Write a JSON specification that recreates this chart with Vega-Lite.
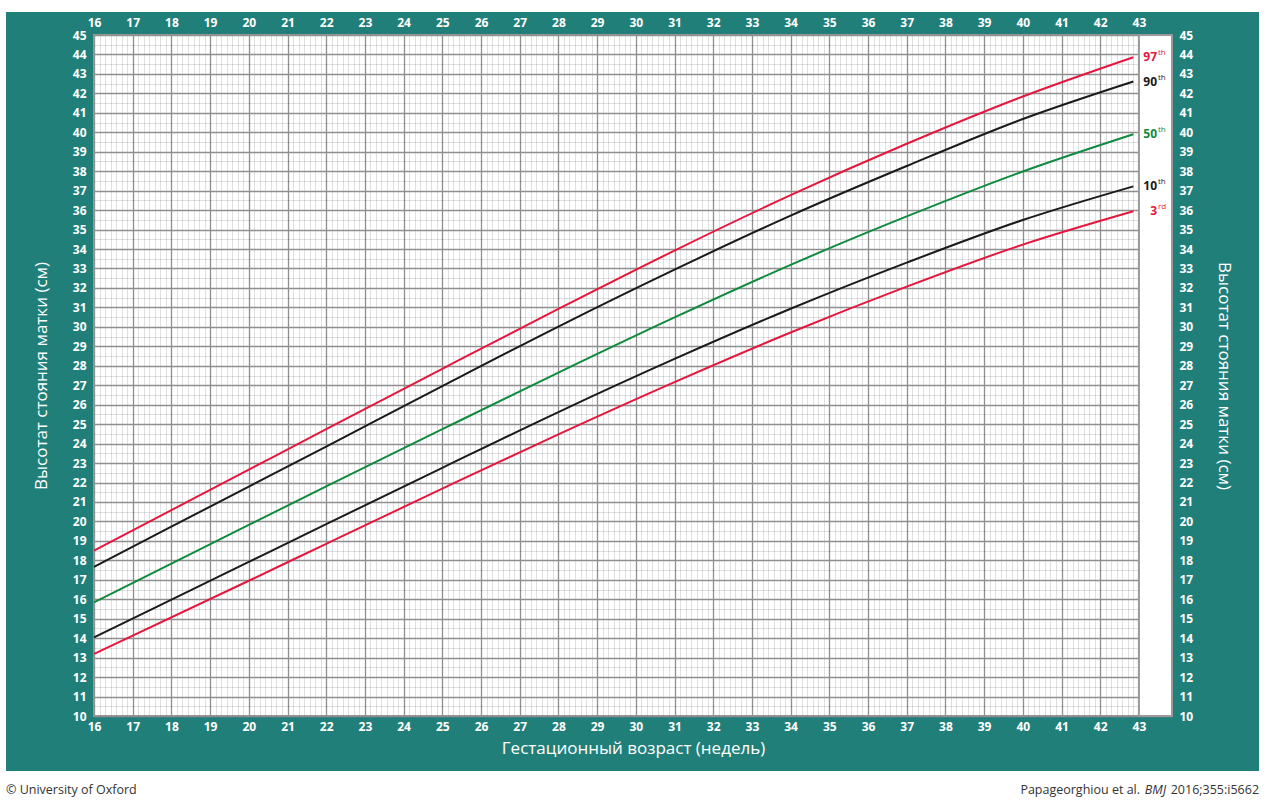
{
  "$schema": "https://vega.github.io/schema/vega-lite/v6.json",
  "width": 1078,
  "height": 681,
  "autosize": {"type": "none"},
  "padding": {"left": 94, "top": 35, "right": 99, "bottom": 96},
  "background": "#217f7a",
  "config": {"view": {"fill": "white", "stroke": "#999999", "strokeWidth": 2}, "font": "Open Sans"},
  "datasets": {
    "curves": [
      {"ga": 16, "p": "97th", "v": 18.5}, {"ga": 20, "p": "97th", "v": 22.66}, {"ga": 22, "p": "97th", "v": 24.74}, {"ga": 25, "p": "97th", "v": 27.845}, {"ga": 28, "p": "97th", "v": 30.92}, {"ga": 31, "p": "97th", "v": 33.92}, {"ga": 34, "p": "97th", "v": 36.77}, {"ga": 37, "p": "97th", "v": 39.41}, {"ga": 40, "p": "97th", "v": 41.84}, {"ga": 42.857, "p": "97th", "v": 43.86},
      {"ga": 16, "p": "90th", "v": 17.67}, {"ga": 20, "p": "90th", "v": 21.79}, {"ga": 22, "p": "90th", "v": 23.85}, {"ga": 25, "p": "90th", "v": 26.955}, {"ga": 28, "p": "90th", "v": 30.015}, {"ga": 31, "p": "90th", "v": 32.94}, {"ga": 34, "p": "90th", "v": 35.715}, {"ga": 37, "p": "90th", "v": 38.265}, {"ga": 40, "p": "90th", "v": 40.68}, {"ga": 42.857, "p": "90th", "v": 42.61},
      {"ga": 16, "p": "50th", "v": 15.84}, {"ga": 20, "p": "50th", "v": 19.82}, {"ga": 22, "p": "50th", "v": 21.8}, {"ga": 25, "p": "50th", "v": 24.74}, {"ga": 28, "p": "50th", "v": 27.65}, {"ga": 31, "p": "50th", "v": 30.485}, {"ga": 34, "p": "50th", "v": 33.185}, {"ga": 37, "p": "50th", "v": 35.675}, {"ga": 40, "p": "50th", "v": 37.985}, {"ga": 42.857, "p": "50th", "v": 39.9},
      {"ga": 16, "p": "10th", "v": 14.04}, {"ga": 20, "p": "10th", "v": 17.92}, {"ga": 22, "p": "10th", "v": 19.86}, {"ga": 25, "p": "10th", "v": 22.755}, {"ga": 28, "p": "10th", "v": 25.62}, {"ga": 31, "p": "10th", "v": 28.35}, {"ga": 34, "p": "10th", "v": 30.93}, {"ga": 37, "p": "10th", "v": 33.3}, {"ga": 40, "p": "10th", "v": 35.49}, {"ga": 42.857, "p": "10th", "v": 37.22},
      {"ga": 16, "p": "3rd", "v": 13.19}, {"ga": 20, "p": "3rd", "v": 16.95}, {"ga": 22, "p": "3rd", "v": 18.85}, {"ga": 25, "p": "3rd", "v": 21.685}, {"ga": 28, "p": "3rd", "v": 24.475}, {"ga": 31, "p": "3rd", "v": 27.16}, {"ga": 34, "p": "3rd", "v": 29.71}, {"ga": 37, "p": "3rd", "v": 32.065}, {"ga": 40, "p": "3rd", "v": 34.225}, {"ga": 42.857, "p": "3rd", "v": 35.94}
    ],
    "labels": [
      {"p": "97th", "n": "97", "s": "th", "v": 43.86},
      {"p": "90th", "n": "90", "s": "th", "v": 42.61},
      {"p": "50th", "n": "50", "s": "th", "v": 39.9},
      {"p": "10th", "n": "10", "s": "th", "v": 37.22},
      {"p": "3rd", "n": "3", "s": "rd", "v": 35.94}
    ],
    "one": [{}]
  },
  "resolve": {"axis": {"x": "independent", "y": "independent"}},
  "layer": [
    {
      "data": {"name": "curves"},
      "mark": {"type": "line", "strokeWidth": 2, "interpolate": "monotone", "clip": false},
      "encoding": {
        "x": {"field": "ga", "type": "quantitative", "scale": {"domain": [16, 43.855], "nice": false, "zero": false},
          "axis": {"orient": "bottom", "values": [16.1429,16.2857,16.4286,16.5714,16.7143,16.8571,17.1429,17.2857,17.4286,17.5714,17.7143,17.8571,18.1429,18.2857,18.4286,18.5714,18.7143,18.8571,19.1429,19.2857,19.4286,19.5714,19.7143,19.8571,20.1429,20.2857,20.4286,20.5714,20.7143,20.8571,21.1429,21.2857,21.4286,21.5714,21.7143,21.8571,22.1429,22.2857,22.4286,22.5714,22.7143,22.8571,23.1429,23.2857,23.4286,23.5714,23.7143,23.8571,24.1429,24.2857,24.4286,24.5714,24.7143,24.8571,25.1429,25.2857,25.4286,25.5714,25.7143,25.8571,26.1429,26.2857,26.4286,26.5714,26.7143,26.8571,27.1429,27.2857,27.4286,27.5714,27.7143,27.8571,28.1429,28.2857,28.4286,28.5714,28.7143,28.8571,29.1429,29.2857,29.4286,29.5714,29.7143,29.8571,30.1429,30.2857,30.4286,30.5714,30.7143,30.8571,31.1429,31.2857,31.4286,31.5714,31.7143,31.8571,32.1429,32.2857,32.4286,32.5714,32.7143,32.8571,33.1429,33.2857,33.4286,33.5714,33.7143,33.8571,34.1429,34.2857,34.4286,34.5714,34.7143,34.8571,35.1429,35.2857,35.4286,35.5714,35.7143,35.8571,36.1429,36.2857,36.4286,36.5714,36.7143,36.8571,37.1429,37.2857,37.4286,37.5714,37.7143,37.8571,38.1429,38.2857,38.4286,38.5714,38.7143,38.8571,39.1429,39.2857,39.4286,39.5714,39.7143,39.8571,40.1429,40.2857,40.4286,40.5714,40.7143,40.8571,41.1429,41.2857,41.4286,41.5714,41.7143,41.8571,42.1429,42.2857,42.4286,42.5714,42.7143,42.8571],
            "grid": true, "gridColor": "#000000", "gridOpacity": 0.12, "gridWidth": 1, "ticks": false, "labels": false, "domain": false, "title": null}},
        "y": {"field": "v", "type": "quantitative", "scale": {"domain": [10, 45], "nice": false, "zero": false},
          "axis": {"orient": "left", "values": [10.5,11.5,12.5,13.5,14.5,15.5,16.5,17.5,18.5,19.5,20.5,21.5,22.5,23.5,24.5,25.5,26.5,27.5,28.5,29.5,30.5,31.5,32.5,33.5,34.5,35.5,36.5,37.5,38.5,39.5,40.5,41.5,42.5,43.5,44.5],
            "grid": true, "gridColor": "#000000", "gridOpacity": 0.12, "gridWidth": 1, "ticks": false, "labels": false, "domain": false, "title": null}},
        "color": {"field": "p", "type": "nominal", "scale": {"domain": ["3rd", "10th", "50th", "90th", "97th"], "range": ["#e4173e", "#1a1a1a", "#108a3e", "#1a1a1a", "#e4173e"]}, "legend": null}
      }
    },
    {
      "data": {"name": "curves"},
      "mark": {"type": "line", "strokeOpacity": 0, "clip": false},
      "encoding": {
        "x": {"field": "ga", "type": "quantitative",
          "axis": {"orient": "bottom", "values": [16,17,18,19,20,21,22,23,24,25,26,27,28,29,30,31,32,33,34,35,36,37,38,39,40,41,42,43], "format": "d",
            "grid": true, "gridColor": "#8f8f8f", "gridWidth": 1.3, "ticks": false, "domain": false,
            "labelColor": "white", "labelFontSize": 12, "labelFontWeight": "bold", "labelPadding": 5, "labelFlush": false, "labelOverlap": false,
            "title": "Гестационный возраст (недель)", "titleColor": "white", "titleFontSize": 17, "titleFontWeight": "normal", "titlePadding": 8}},
        "y": {"field": "v", "type": "quantitative",
          "axis": {"orient": "left", "values": [10,11,12,13,14,15,16,17,18,19,20,21,22,23,24,25,26,27,28,29,30,31,32,33,34,35,36,37,38,39,40,41,42,43,44,45], "format": "d",
            "grid": true, "gridColor": "#8f8f8f", "gridWidth": 1.3, "ticks": false, "domain": false,
            "labelColor": "white", "labelFontSize": 12, "labelFontWeight": "bold", "labelPadding": 8, "labelFlush": false, "labelOverlap": false,
            "title": "Высотат стояния матки (см)", "titleColor": "white", "titleFontSize": 17, "titleFontWeight": "normal", "titlePadding": 22}},
        "detail": {"field": "p"}
      }
    },
    {
      "data": {"name": "curves"},
      "mark": {"type": "line", "strokeOpacity": 0, "clip": false},
      "encoding": {
        "x": {"field": "ga", "type": "quantitative",
          "axis": {"orient": "top", "values": [16,17,18,19,20,21,22,23,24,25,26,27,28,29,30,31,32,33,34,35,36,37,38,39,40,41,42,43], "format": "d",
            "grid": false, "ticks": false, "domain": false,
            "labelColor": "white", "labelFontSize": 12, "labelFontWeight": "bold", "labelPadding": 6, "labelFlush": false, "labelOverlap": false, "title": null}},
        "y": {"field": "v", "type": "quantitative",
          "axis": {"orient": "right", "values": [10,11,12,13,14,15,16,17,18,19,20,21,22,23,24,25,26,27,28,29,30,31,32,33,34,35,36,37,38,39,40,41,42,43,44,45], "format": "d",
            "grid": false, "ticks": false, "domain": false,
            "labelColor": "white", "labelFontSize": 12, "labelFontWeight": "bold", "labelPadding": 7, "labelFlush": false, "labelOverlap": false,
            "title": "Высотат стояния матки (см)", "titleColor": "white", "titleFontSize": 17, "titleFontWeight": "normal", "titlePadding": 22}},
        "detail": {"field": "p"}
      }
    },
    {
      "data": {"name": "one"},
      "mark": {"type": "rect", "fill": "white", "stroke": "#999999", "strokeWidth": 2, "clip": false},
      "encoding": {
        "x": {"datum": 43, "type": "quantitative", "axis": null},
        "x2": {"datum": 43.855},
        "y": {"datum": 10, "type": "quantitative", "axis": null},
        "y2": {"datum": 45}
      }
    },
    {
      "data": {"name": "one"},
      "mark": {"type": "rect", "fill": "white", "clip": false},
      "encoding": {
        "x": {"datum": 13.0, "type": "quantitative", "axis": null},
        "x2": {"datum": 47.0},
        "y": {"datum": 4.5, "type": "quantitative", "axis": null},
        "y2": {"datum": 7.173}
      }
    },
    {
      "data": {"name": "one"},
      "mark": {"type": "rect", "fill": "white", "clip": false},
      "encoding": {
        "x": {"datum": 13.0, "type": "quantitative", "axis": null},
        "x2": {"datum": 47.0},
        "y": {"datum": 46.182, "type": "quantitative", "axis": null},
        "y2": {"datum": 47.5}
      }
    },
    {
      "data": {"name": "one"},
      "mark": {"type": "rect", "fill": "white", "clip": false},
      "encoding": {
        "x": {"datum": 13.0, "type": "quantitative", "axis": null},
        "x2": {"datum": 13.726},
        "y": {"datum": 4.5, "type": "quantitative", "axis": null},
        "y2": {"datum": 47.5}
      }
    },
    {
      "data": {"name": "one"},
      "mark": {"type": "rect", "fill": "white", "clip": false},
      "encoding": {
        "x": {"datum": 46.104, "type": "quantitative", "axis": null},
        "x2": {"datum": 47.0},
        "y": {"datum": 4.5, "type": "quantitative", "axis": null},
        "y2": {"datum": 47.5}
      }
    },
    {
      "data": {"name": "labels"},
      "mark": {"type": "text", "align": "right", "baseline": "middle", "dx": -15, "fontSize": 12, "fontWeight": "bold", "clip": false},
      "encoding": {
        "x": {"datum": 43.855, "type": "quantitative", "axis": null},
        "y": {"field": "v", "type": "quantitative", "axis": null},
        "text": {"field": "n"},
        "color": {"field": "p", "type": "nominal", "legend": null}
      }
    },
    {
      "data": {"name": "labels"},
      "mark": {"type": "text", "align": "left", "baseline": "middle", "dx": -14, "dy": -4, "fontSize": 8, "fontWeight": "normal", "clip": false},
      "encoding": {
        "x": {"datum": 43.855, "type": "quantitative", "axis": null},
        "y": {"field": "v", "type": "quantitative", "axis": null},
        "text": {"field": "s"},
        "color": {"field": "p", "type": "nominal", "legend": null}
      }
    },
    {
      "data": {"name": "one"},
      "mark": {"type": "text", "align": "left", "baseline": "middle", "fontSize": 12.5, "color": "#333333", "clip": false, "text": "© University of Oxford"},
      "encoding": {
        "x": {"datum": 13.726, "type": "quantitative", "axis": null},
        "y": {"datum": 6.196, "type": "quantitative", "axis": null}
      }
    },
    {
      "data": {"name": "one"},
      "mark": {"type": "text", "align": "right", "baseline": "middle", "fontSize": 12.5, "color": "#333333", "clip": false, "text": "2016;355:i5662"},
      "encoding": {
        "x": {"datum": 46.104, "type": "quantitative", "axis": null},
        "y": {"datum": 6.196, "type": "quantitative", "axis": null}
      }
    },
    {
      "data": {"name": "one"},
      "mark": {"type": "text", "align": "right", "baseline": "middle", "fontSize": 12.5, "fontStyle": "italic", "color": "#333333", "clip": false, "dx": -93, "text": "BMJ"},
      "encoding": {
        "x": {"datum": 46.104, "type": "quantitative", "axis": null},
        "y": {"datum": 6.196, "type": "quantitative", "axis": null}
      }
    },
    {
      "data": {"name": "one"},
      "mark": {"type": "text", "align": "right", "baseline": "middle", "fontSize": 12.5, "color": "#333333", "clip": false, "dx": -119, "text": "Papageorghiou et al."},
      "encoding": {
        "x": {"datum": 46.104, "type": "quantitative", "axis": null},
        "y": {"datum": 6.196, "type": "quantitative", "axis": null}
      }
    }
  ]
}
